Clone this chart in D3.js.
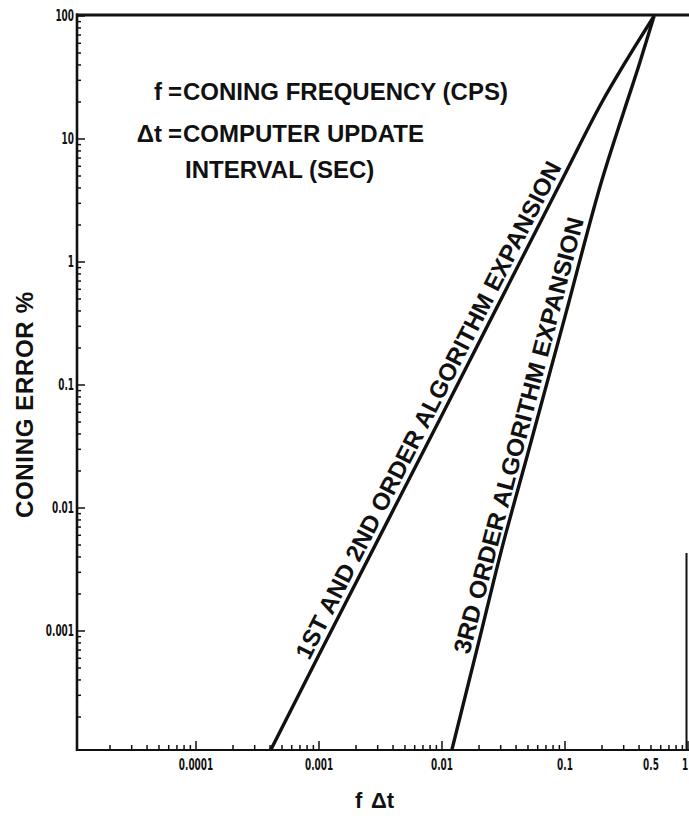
<!DOCTYPE html>
<html>
<head>
<meta charset="utf-8">
<script src="https://cdn.jsdelivr.net/npm/d3@7"></script>
<style>
  html, body { margin: 0; padding: 0; background: #fff; }
  svg { display: block; }
  .lbl { font-family: "Liberation Sans", Arial, "Helvetica", sans-serif; font-weight: bold; fill: #111; }
  .tick { font-family: "DejaVu Sans Condensed", "DejaVu Sans", sans-serif; font-weight: bold; fill: #111; }
</style>
</head>
<body>
<script>
// Coning error versus normalised update interval (f·Δt), log-log.
const fdtTicks = [0.0001, 0.001, 0.01, 0.1, 0.5, 1];
const fdtTickLabels = ["0.0001", "0.001", "0.01", "0.1", "0.5", "1"];
const errTicks = [100, 10, 1, 0.1, 0.01, 0.001];
const errTickLabels = ["100", "10", "1", "0.1", "0.01", "0.001"];

// 1st and 2nd order algorithm expansion
const firstSecondFdt = [0.00039, 0.001, 0.01, 0.1, 0.2, 0.3, 0.4, 0.53];
const firstSecondErr = [0.0001, 0.00064, 0.057, 5.2, 20, 40, 64, 100];

// 3rd order algorithm expansion
const thirdFdt = [0.0118, 0.02, 0.03, 0.05, 0.1, 0.2, 0.3, 0.4, 0.53];
const thirdErr = [0.0001, 0.00083, 0.0043, 0.028, 0.36, 4.66, 16.6, 40, 100];

const W = 689, H = 818;
const plot = { left: 77, right: 688, top: 15, bottom: 750 };

const svg = d3.select("body").append("svg").attr("width", W).attr("height", H);

const x = d3.scaleLog().domain([1e-5, 1]).range([73, 688]);
const y = d3.scaleLog().domain([1e-4, 100]).range([754, 16]);

svg.append("defs").append("clipPath").attr("id", "plotClip")
  .append("rect")
  .attr("x", plot.left).attr("y", plot.top)
  .attr("width", W - plot.left).attr("height", plot.bottom - plot.top);

// minor / major ticks
const xTickVals = [];
for (let e = -5; e <= 0; e++) {
  for (let k = 1; k <= 9; k++) {
    const v = k * Math.pow(10, e);
    if (v <= 1.0001 && x(v) >= plot.left) xTickVals.push({ v, major: k === 1 });
  }
}
const yTickVals = [];
for (let e = -4; e <= 2; e++) {
  for (let k = 1; k <= 9; k++) {
    const v = k * Math.pow(10, e);
    if (v <= 100.001 && y(v) <= plot.bottom) yTickVals.push({ v, major: k === 1 });
  }
}

const axes = svg.append("g").attr("stroke", "#111").attr("fill", "none");

axes.selectAll("line.xt").data(xTickVals).join("line")
  .attr("x1", d => x(d.v)).attr("x2", d => x(d.v))
  .attr("y1", plot.bottom).attr("y2", d => plot.bottom - (d.major ? 9 : 5))
  .attr("stroke-width", 1.5);

axes.selectAll("line.yt").data(yTickVals).join("line")
  .attr("y1", d => y(d.v)).attr("y2", d => y(d.v))
  .attr("x1", plot.left).attr("x2", d => plot.left + (d.major ? 8 : 4))
  .attr("stroke-width", 1.5);

// frame
axes.append("line").attr("x1", plot.left).attr("x2", plot.left)
  .attr("y1", plot.top - 1.5).attr("y2", plot.bottom + 1).attr("stroke-width", 2.6);
axes.append("line").attr("x1", plot.left - 1).attr("x2", W)
  .attr("y1", plot.bottom).attr("y2", plot.bottom).attr("stroke-width", 2.2);
axes.append("line").attr("x1", plot.left - 1).attr("x2", W)
  .attr("y1", plot.top).attr("y2", plot.top).attr("stroke-width", 3);
axes.append("line").attr("x1", 686.5).attr("x2", 686.5)
  .attr("y1", 553).attr("y2", plot.bottom).attr("stroke-width", 2);

// tick labels
svg.selectAll("text.xl").data(fdtTicks).join("text")
  .attr("class", "tick")
  .attr("transform", d => `translate(${Math.min(x(d), 685)},770) scale(0.66,1)`)
  .attr("text-anchor", "middle")
  .attr("font-size", 15)
  .text((d, i) => fdtTickLabels[i]);

svg.selectAll("text.yl").data(errTicks).join("text")
  .attr("class", "tick")
  .attr("transform", d => `translate(74,${y(d)}) scale(0.66,1)`)
  .attr("text-anchor", "end")
  .attr("dy", "0.36em")
  .attr("font-size", 15)
  .text((d, i) => errTickLabels[i]);

// curves
const toPts = (fx, fy) => fx.map((v, i) => [x(v), y(fy[i])]);
const line = d3.line().curve(d3.curveMonotoneX);
const curves = svg.append("g").attr("clip-path", "url(#plotClip)")
  .attr("fill", "none").attr("stroke", "#111").attr("stroke-width", 3.4)
  .attr("stroke-linejoin", "round");
curves.append("path").attr("d", line(toPts(firstSecondFdt, firstSecondErr)));
curves.append("path").attr("d", line(toPts(thirdFdt, thirdErr)));

// point on a curve (pixel space) for a given fΔt
function pointAt(fx, fy, v) {
  const pts = toPts(fx, fy);
  const px = x(v);
  for (let i = 0; i < pts.length - 1; i++) {
    if (px >= pts[i][0] && px <= pts[i + 1][0]) {
      const t = (px - pts[i][0]) / (pts[i + 1][0] - pts[i][0]);
      return [px, pts[i][1] + t * (pts[i + 1][1] - pts[i][1])];
    }
  }
  return pts[pts.length - 1];
}

function curveLabel(fx, fy, startV, refA, refB, txt, len) {
  const p = pointAt(fx, fy, startV);
  const a = pointAt(fx, fy, refA), b = pointAt(fx, fy, refB);
  const ang = Math.atan2(b[1] - a[1], b[0] - a[0]) * 180 / Math.PI;
  svg.append("text").attr("class", "lbl")
    .attr("transform", `translate(${p[0]},${p[1]}) rotate(${ang})`)
    .attr("y", -6)
    .attr("font-size", 24)
    .attr("textLength", len).attr("lengthAdjust", "spacingAndGlyphs")
    .text(txt);
}

curveLabel(firstSecondFdt, firstSecondErr, 0.00092, 0.001, 0.1,
  "1ST AND 2ND ORDER ALGORITHM EXPANSION", 555);
curveLabel(thirdFdt, thirdErr, 0.0186, 0.0118, 0.2,
  "3RD ORDER ALGORITHM EXPANSION", 450);

// symbol definitions
const note = svg.append("g").attr("class", "lbl").attr("font-size", 24);
note.append("text").attr("x", 162).attr("y", 100).attr("text-anchor", "end").text("f");
note.append("text").attr("x", 168).attr("y", 100).text("=");
note.append("text").attr("x", 183).attr("y", 100).text("CONING FREQUENCY (CPS)");
note.append("text").attr("x", 162).attr("y", 142).attr("text-anchor", "end").text("Δt");
note.append("text").attr("x", 168).attr("y", 142).text("=");
note.append("text").attr("x", 183).attr("y", 142).text("COMPUTER UPDATE");
note.append("text").attr("x", 185).attr("y", 178).text("INTERVAL (SEC)");

// axis titles
svg.append("text").attr("class", "lbl")
  .attr("transform", "translate(33,405) rotate(-90)")
  .attr("text-anchor", "middle")
  .attr("font-size", 24)
  .attr("textLength", 226).attr("lengthAdjust", "spacing")
  .text("CONING ERROR %");

const xt = svg.append("text").attr("class", "lbl").attr("font-size", 22).attr("y", 808);
xt.append("tspan").attr("x", 355).text("f");
xt.append("tspan").attr("x", 371).text("Δt");
</script>
</body>
</html>
